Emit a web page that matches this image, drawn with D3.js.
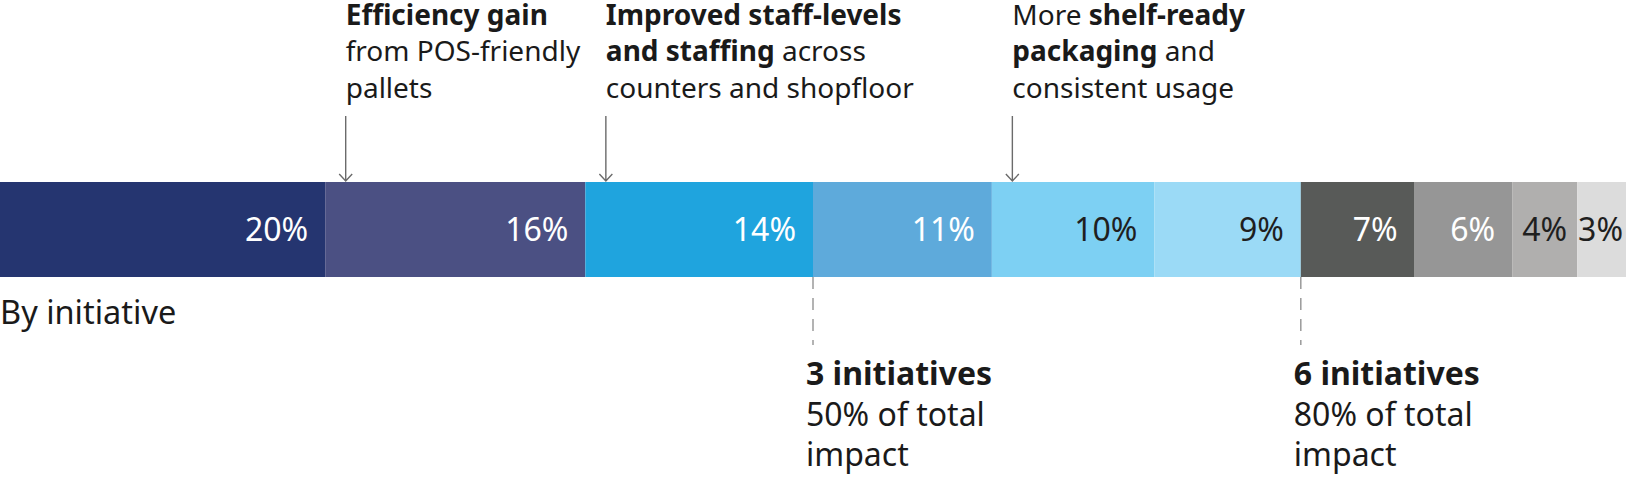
<!DOCTYPE html>
<html>
  <head>
    <meta charset="utf-8">
    <title>Impact by initiative</title>
    <script src="https://d3js.org/d3.v7.min.js"></script>
    <style>
      body { margin: 0; background: #fff; }
      svg { display: block; font-family: "Noto Sans", "Open Sans", sans-serif; }
      .share { font-size: 32px; }
      .note { font-size: 28px; fill: #1a1a1a; }
      .milestone { font-size: 32px; fill: #1a1a1a; }
      .rowLabel { font-size: 32.5px; fill: #1a1a1a; }
    </style>
  </head>
  <body>
    <svg id="chart" width="1626" height="478"></svg>
    <script>
      // data
      const shares = [20, 16, 14, 11, 10, 9, 7, 6, 4, 3];
      const fills = ["#253570", "#4b5083", "#1fa4de", "#5eaadb", "#7dd0f3",
                     "#9bdaf6", "#585a58", "#969696", "#b0afae", "#dcdcdc"];
      const labelFills = ["#fff", "#fff", "#fff", "#fff", "#1f1f1f",
                          "#1f1f1f", "#fff", "#fff", "#1f1f1f", "#1f1f1f"];
      const rowLabel = "By initiative";
      // notes above the bar: segment they point at, lines of [text, bold]
      const noteSegments = [1, 2, 4];
      const noteLines = [
        [[["Efficiency gain", true]], [["from POS-friendly", false]], [["pallets", false]]],
        [[["Improved staff-levels", true]], [["and staffing", true], [" across", false]], [["counters and shopfloor", false]]],
        [[["More ", false], ["shelf-ready", true]], [["packaging", true], [" and", false]], [["consistent usage", false]]]
      ];
      // cumulative milestones below the bar
      const milestoneCounts = [3, 6];
      const milestoneShares = ["50% of total", "80% of total"];

      const width = 1626, height = 478;
      const barTop = 182, barHeight = 95;
      const svg = d3.select("#chart");

      const x = d3.scaleLinear().domain([0, d3.sum(shares)]).range([0, width]);
      const starts = shares.map((d, i) => d3.sum(shares.slice(0, i)));

      // bar segments
      const seg = svg.append("g").selectAll("g")
        .data(shares)
        .join("g");
      seg.append("rect")
        .attr("x", (d, i) => x(starts[i]))
        .attr("y", barTop)
        .attr("width", (d, i) => x(starts[i] + d) - x(starts[i]))
        .attr("height", barHeight)
        .attr("fill", (d, i) => fills[i]);
      seg.append("text")
        .attr("class", "share")
        .attr("text-anchor", "end")
        .attr("y", barTop + barHeight / 2 + 11.5)
        .attr("fill", (d, i) => labelFills[i])
        .text(d => d + "%")
        .attr("x", function(d, i) {
          const w = x(starts[i] + d) - x(starts[i]);
          const tw = this.getComputedTextLength();
          const pad = Math.min(17, Math.max(3, (w - tw) / 2));
          return x(starts[i] + d) - pad;
        });

      // notes with arrows
      const notes = svg.append("g").selectAll("g")
        .data(noteSegments)
        .join("g")
        .attr("transform", d => "translate(" + (x(starts[d]) + 20.5) + ",0)");
      notes.append("path")
        .attr("d", "M0,116V" + (barTop - 1) + "M-6.5," + (barTop - 8) + "L0," + (barTop - 1) + "L6.5," + (barTop - 8))
        .attr("fill", "none")
        .attr("stroke", "#6b6b6b")
        .attr("stroke-width", 1.4);
      notes.each(function(d, i) {
        const t = d3.select(this).append("text").attr("class", "note");
        noteLines[i].forEach((line, j) => {
          line.forEach((part, k) => {
            const ts = t.append("tspan")
              .attr("font-weight", part[1] ? 700 : 400)
              .text(part[0]);
            if (k === 0) ts.attr("x", 0).attr("y", 25 + j * 36.3);
          });
        });
      });

      // milestones
      const ms = svg.append("g").selectAll("g")
        .data(milestoneCounts)
        .join("g")
        .attr("transform", d => "translate(" + x(starts[d]) + ",0)");
      ms.append("line")
        .attr("y1", barTop + barHeight)
        .attr("y2", 345)
        .attr("stroke", "#9a9a9a")
        .attr("stroke-width", 1.5)
        .attr("stroke-dasharray", "12,9");
      ms.each(function(d, i) {
        const t = d3.select(this).append("text").attr("class", "milestone");
        t.append("tspan").attr("x", -7).attr("y", 385).attr("font-weight", 700).text(d + " initiatives");
        t.append("tspan").attr("x", -7).attr("y", 425.5).text(milestoneShares[i]);
        t.append("tspan").attr("x", -7).attr("y", 466).text("impact");
      });

      svg.append("text")
        .attr("class", "rowLabel")
        .attr("x", 0)
        .attr("y", 324)
        .text(rowLabel);
    </script>
  </body>
</html>
